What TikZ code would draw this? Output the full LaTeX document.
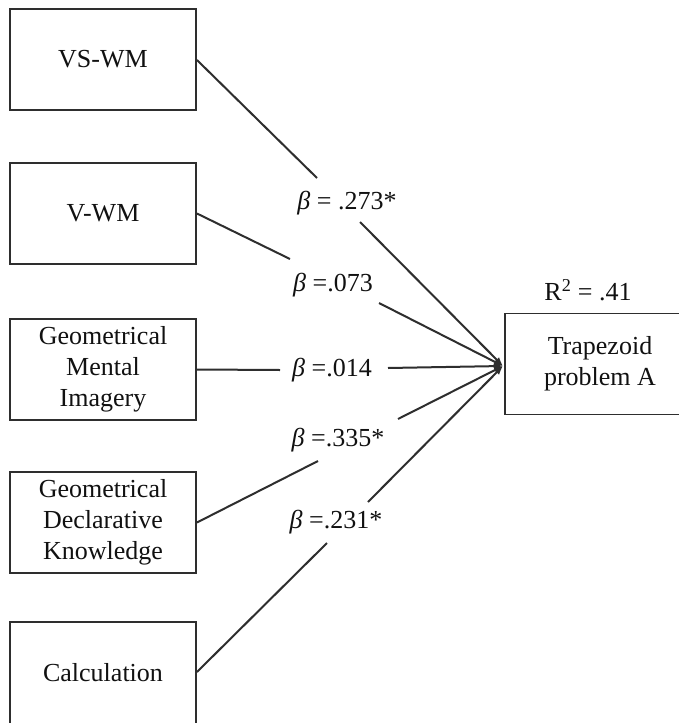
\documentclass[tikz,border=0pt]{standalone}
\usepackage{fontspec}
\setmainfont{Liberation Serif}
\usetikzlibrary{arrows.meta}
\definecolor{ink}{HTML}{111111}
\definecolor{edge}{HTML}{2E2E2E}
\tikzset{
  box/.style={draw=edge, line width=1.9pt, minimum width=186pt, minimum height=101pt,
              align=center, text=ink, inner sep=0pt, font=\fontsize{26}{31}\selectfont},
  coef/.style={text=ink, inner sep=0pt, font=\fontsize{26}{31}\selectfont},
  path/.style={draw=edge, line width=2pt},
  tip/.style={path, -{Latex[length=9pt,width=7pt]}}
}
\begin{document}
\begin{tikzpicture}[x=1pt,y=-1pt]
\useasboundingbox (0,0) rectangle (679,723);
\clip (0,0) rectangle (679,723);
\fill[white] (0,0) rectangle (679,723);
% predictor boxes
\node[box] (vs)  at (103,59.5) {VS-WM};
\node[box] (vwm) at (103,213.5) {V-WM};
\node[box] (gmi) at (103,369.5) {Geometrical\\Mental\\Imagery};
\node[box] (gdk) at (103,522.5) {Geometrical\\Declarative\\Knowledge};
\node[box, minimum height=120pt] (calc) at (103,682) {};
\node[coef] (calct) at (103,673) {Calculation};
% outcome
\node[box, minimum width=190pt] (trap) at (600,364) {Trapezoid\\problem A};
\node[coef] (r2) at (588,290) {R\textsuperscript{2} = .41};
\coordinate (conv) at (503,366);
% coefficient labels
\node[coef] (l1) at (347,203) {\textit{β} = .273*};
\node[coef] (l2) at (333,285) {\textit{β} =.073};
\node[coef] (l3) at (332,370) {\textit{β} =.014};
\node[coef] (l4) at (338,440) {\textit{β} =.335*};
\node[coef] (l5) at (336,522) {\textit{β} =.231*};
% segment break points
\coordinate (a1) at (317,178); \coordinate (b1) at (360,222);
\coordinate (a2) at (290,259); \coordinate (b2) at (379,303);
\coordinate (a3) at (280,370); \coordinate (b3) at (388,368);
\coordinate (a4) at (318,461); \coordinate (b4) at (398,419);
\coordinate (a5) at (327,543); \coordinate (b5) at (368,502);
% connectors
\draw[path] (vs.east |- 0,60) -- (a1);   \draw[tip] (b1) -- (conv);
\draw[path] (vwm.east) -- (a2);          \draw[tip] (b2) -- (conv);
\draw[path] (gmi.east) -- (a3);          \draw[tip] (b3) -- (conv);
\draw[path] (gdk.east) -- (a4);          \draw[tip] (b4) -- (conv);
\draw[path] (calc.east |- 0,672) -- (a5); \draw[tip] (b5) -- (conv);
\end{tikzpicture}
\end{document}
